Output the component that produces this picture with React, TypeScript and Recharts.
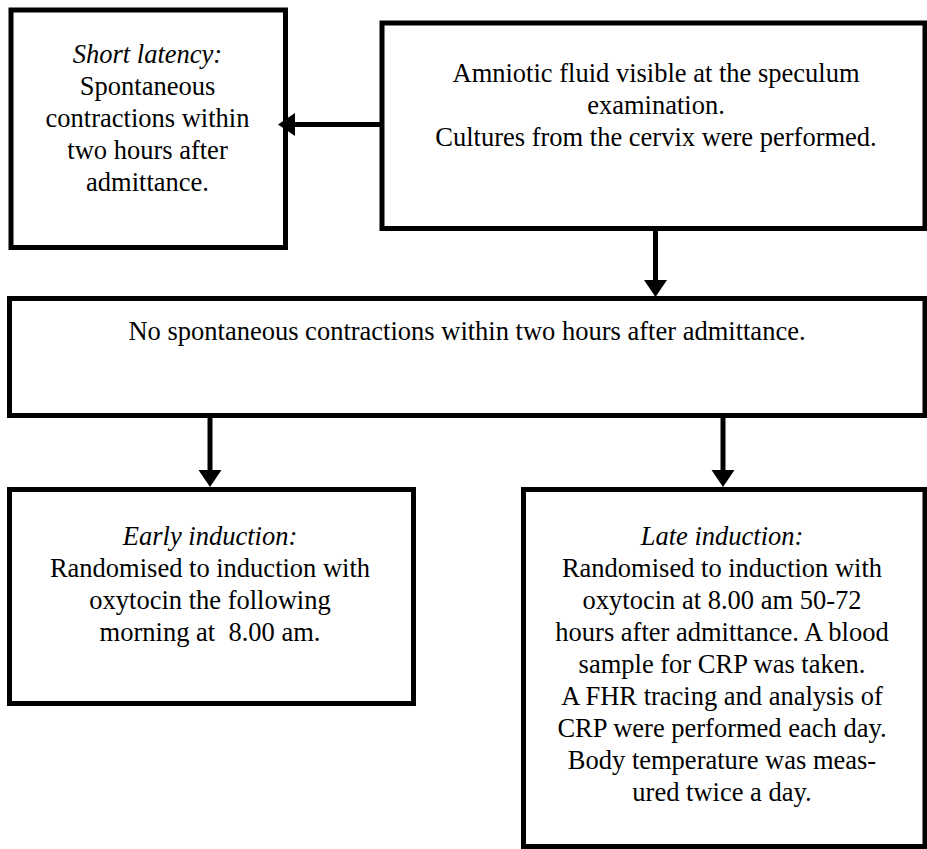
import { ScatterChart, Scatter, XAxis, YAxis, ReferenceArea, ReferenceLine } from 'recharts';

// Flowchart laid out on a 927 x 849 grid; x grows right, y grows down
const BOX_X: [number, number][] = [
  [11, 285.5],
  [382, 925],
  [9.5, 925],
  [9.5, 413.5],
  [523.5, 925],
];
const BOX_Y: [number, number][] = [
  [10, 247.5],
  [23, 228.5],
  [298.5, 415.5],
  [489.5, 703.5],
  [489.5, 846.5],
];

// first line of each box that is set in italics (empty = none)
const BOX_HEADINGS = ['Short latency:', '', '', 'Early induction:', 'Late induction:'];
const BOX_LINES: string[][] = [
  ['Spontaneous', 'contractions within', 'two hours after', 'admittance.'],
  ['Amniotic fluid visible at the speculum', 'examination.', 'Cultures from the cervix were performed.'],
  ['No spontaneous contractions within two hours after admittance.'],
  ['Randomised to induction with', 'oxytocin the following', 'morning at  8.00 am.'],
  [
    'Randomised to induction with',
    'oxytocin at 8.00 am 50-72',
    'hours after admittance. A blood',
    'sample for CRP was taken.',
    'A FHR tracing and analysis of',
    'CRP were performed each day.',
    'Body temperature was meas-',
    'ured twice a day.',
  ],
];
// text centre x and first baseline y
const TEXT_X = [147.5, 656, 467, 210, 722];
const TEXT_Y = [63, 82, 340, 545, 545];

// arrows: start point, tip point, direction
const ARROW_FROM: [number, number][] = [[380, 124.5], [655.5, 228.5], [210, 415.5], [723, 415.5]];
const ARROW_TIP: [number, number][] = [[278, 124.5], [655.5, 297], [210, 487], [723, 487]];
const ARROW_DIR = ['left', 'down', 'down', 'down'];

const HEAD_LEN = 17;
const HEAD_HALF = 11.5;
const LINE_H = 32;
const FONT = "'Liberation Serif', 'Times New Roman', Times, serif";

const heads = ARROW_TIP.map(([x, y], i) => ({ x, y, dir: ARROW_DIR[i] }));
const labels = TEXT_X.map((x, i) => ({
  x,
  y: TEXT_Y[i],
  heading: BOX_HEADINGS[i],
  lines: BOX_LINES[i],
}));

function Arrowhead(props: any) {
  const { cx, cy, payload } = props;
  const pts =
    payload.dir === 'down'
      ? `${cx},${cy} ${cx - HEAD_HALF},${cy - HEAD_LEN} ${cx + HEAD_HALF},${cy - HEAD_LEN}`
      : `${cx},${cy} ${cx + HEAD_LEN},${cy - HEAD_HALF} ${cx + HEAD_LEN},${cy + HEAD_HALF}`;
  return <polygon points={pts} fill="#000" />;
}

function TextBlock(props: any) {
  const { cx, cy, payload } = props;
  const all: { t: string; it: boolean }[] = [];
  if (payload.heading) all.push({ t: payload.heading, it: true });
  payload.lines.forEach((t: string) => all.push({ t, it: false }));
  return (
    <text
      x={cx}
      y={cy}
      textAnchor="middle"
      fill="#000"
      style={{ fontFamily: FONT, fontSize: 26.5, whiteSpace: 'pre' }}
    >
      {all.map((l, i) => (
        <tspan key={i} x={cx} dy={i === 0 ? 0 : LINE_H} style={{ fontStyle: l.it ? 'italic' : 'normal' }}>
          {l.t}
        </tspan>
      ))}
    </text>
  );
}

export default function App() {
  return (
    <div style={{ position: 'absolute', left: 0, top: 0, width: 927, height: 849, background: '#fff' }}>
      <ScatterChart width={927} height={849} margin={{ top: 0, right: 0, bottom: 0, left: 0 }}>
        <XAxis type="number" dataKey="x" domain={[0, 927]} hide />
        <YAxis type="number" dataKey="y" domain={[0, 849]} reversed hide />
        {BOX_X.map(([x1, x2], i) => (
          <ReferenceArea
            key={`box-${i}`}
            x1={x1}
            x2={x2}
            y1={BOX_Y[i][0]}
            y2={BOX_Y[i][1]}
            fill="#fff"
            fillOpacity={1}
            stroke="#000"
            strokeWidth={5}
            ifOverflow="visible"
          />
        ))}
        {ARROW_FROM.map(([x, y], i) => {
          const [tx, ty] = ARROW_TIP[i];
          const end = ARROW_DIR[i] === 'down' ? { x: tx, y: ty - HEAD_LEN + 1 } : { x: tx + HEAD_LEN - 1, y: ty };
          return (
            <ReferenceLine
              key={`arrow-${i}`}
              segment={[{ x, y }, end]}
              stroke="#000"
              strokeWidth={5}
              ifOverflow="visible"
            />
          );
        })}
        <Scatter data={heads} shape={Arrowhead} isAnimationActive={false} />
        <Scatter data={labels} shape={TextBlock} isAnimationActive={false} />
      </ScatterChart>
    </div>
  );
}
